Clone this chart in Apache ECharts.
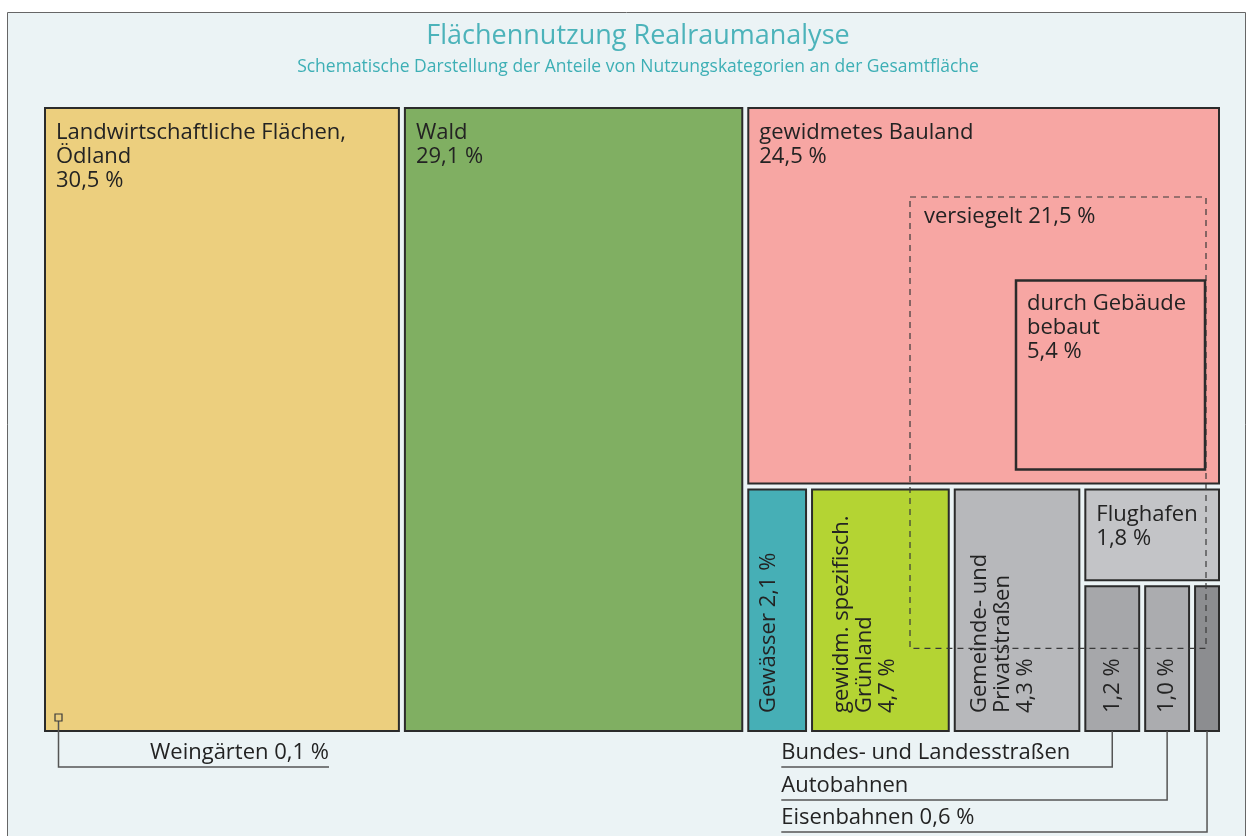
<!DOCTYPE html>
<html>
<head>
<meta charset="utf-8">
<title>Flächennutzung Realraumanalyse</title>
<script src="https://cdn.jsdelivr.net/npm/echarts@6/dist/echarts.min.js"></script>
<style>
  html, body { margin: 0; padding: 0; background: #fff; }
  #chart { width: 1247px; height: 836px; }
</style>
</head>
<body>
<div id="chart"></div>
<script>
  // Anteile an der Gesamtfläche (%)
  const categories = ['Landwirtschaftliche Flächen,\nÖdland', 'Wald', 'gewidmetes Bauland', 'Gewässer',
    'gewidm. spezifisch.\nGrünland', 'Gemeinde- und\nPrivatstraßen', 'Flughafen',
    'Bundes- und Landesstraßen', 'Autobahnen', 'Eisenbahnen'];
  const shares = [30.5, 29.1, 24.5, 2.1, 4.7, 4.3, 1.8, 1.2, 1.0, 0.6];
  const colors = ['#ECCF7E', '#80AF62', '#F7A6A3', '#46AFB6', '#B4D433', '#B7B8BB', '#C3C4C7',
    '#A6A7AA', '#ABACAF', '#8C8D90'];
  // Teilflächen innerhalb des Baulands / Sonderfälle
  const versiegelt = 21.5;
  const gebaeude = 5.4;
  const weingaerten = 0.1;

  const FONT = 'Open Sans';
  const TXT = '#232323';
  const GAP = 3;

  function pct(v) {
    return v.toFixed(1).replace('.', ',') + ' %';
  }

  // einfache slice-and-dice Aufteilung: Spalten nach Anteil, rechte Spalte unterteilt
  const rx0 = shares[0] + shares[1];
  function layout() {
    const b = [];
    b[0] = [0, 0, shares[0], 100];
    b[1] = [shares[0], 0, rx0, 100];
    const rw = 100 - rx0;
    const yb = shares[2] / rw * 100;
    b[2] = [rx0, 0, 100, yb];
    const group = shares[6] + shares[7] + shares[8] + shares[9];
    const row = [shares[3], shares[4], shares[5], group];
    const rowSum = row.reduce((a, c) => a + c, 0);
    let cx = rx0;
    const rowX = row.map(v => { const a = cx; cx += v / rowSum * rw; return [a, cx]; });
    for (let k = 0; k < 3; k++) b[3 + k] = [rowX[k][0], yb, rowX[k][1], 100];
    const gx0 = rowX[3][0], gx1 = rowX[3][1];
    const yf = yb + shares[6] / group * (100 - yb);
    b[6] = [gx0, yb, gx1, yf];
    const small = shares[7] + shares[8] + shares[9];
    let sx = gx0;
    for (let i = 7; i <= 9; i++) {
      const w = shares[i] / small * (gx1 - gx0);
      b[i] = [sx, yf, sx + w, 100];
      sx += w;
    }
    return b.map((r, i) => r.concat(i));
  }
  const boxes = layout();

  // wie wird beschriftet
  const labelMode = ['top', 'top', 'top', 'rot', 'rot', 'rot', 'top', 'rotc', 'rotc', 'none'];
  const rotPad = { 3: 9, 4: 18, 5: 13 };
  const leaderRows = [36, 69, 101];

  function txt(x, y, text, extra) {
    return Object.assign({
      type: 'text', x: x, y: y,
      style: Object.assign({ text: text, fill: TXT, fontSize: 22, fontFamily: FONT,
        lineHeight: 24, align: 'left', verticalAlign: 'top' }, extra && extra.style)
    }, extra && extra.el);
  }

  function renderCell(params, api) {
    const i = api.value(4);
    const p0 = api.coord([api.value(0), api.value(1)]);
    const p1 = api.coord([api.value(2), api.value(3)]);
    const x = p0[0] + GAP, y = p0[1] + GAP;
    const w = p1[0] - p0[0] - 2 * GAP, h = p1[1] - p0[1] - 2 * GAP;
    const children = [{
      type: 'rect', shape: { x: x, y: y, width: w, height: h },
      style: { fill: colors[i], stroke: '#2b2b2b', lineWidth: 2 }
    }];
    const mode = labelMode[i];
    const name = categories[i];
    if (mode === 'top') {
      children.push(txt(x + 11, y + 13, name + '\n' + pct(shares[i])));
    } else if (mode === 'rot') {
      const t = i === 3 ? name + ' ' + pct(shares[i]) : name + '\n' + pct(shares[i]);
      children.push(txt(x + rotPad[i], y + h - 18, t,
        { el: { rotation: Math.PI / 2 }, style: { lineHeight: 23 } }));
    } else if (mode === 'rotc') {
      children.push(txt(x + w / 2, y + h - 18, pct(shares[i]),
        { el: { rotation: Math.PI / 2 }, style: { verticalAlign: 'middle' } }));
    }
    // Zuordnungslinien für die schmalen Verkehrsflächen
    if (i >= 7) {
      const k = i - 7;
      const cx = x + w / 2, by = y + h;
      const ly = by + leaderRows[k];
      const lx = api.coord([rx0, 0])[0] + GAP + 33;
      children.push({
        type: 'polyline', shape: { points: [[cx, by], [cx, ly], [lx, ly]] },
        style: { stroke: '#555', lineWidth: 1.5, fill: null }
      });
      const t = i === 9 ? name + ' ' + pct(shares[i]) : name;
      children.push(txt(lx, ly - 2, t, { style: { verticalAlign: 'bottom' } }));
    }
    // Weingärten: winziges Kästchen unten links
    if (i === 0) {
      const bx = x + 10, bs = 7, byy = y + h - 10 - bs;
      const ly = y + h + 36, lx = x + 284;
      children.push({
        type: 'polyline', shape: { points: [[bx + bs / 2, byy + bs], [bx + bs / 2, ly], [lx, ly]] },
        style: { stroke: '#555', lineWidth: 1.5, fill: null }
      });
      children.push({
        type: 'rect', shape: { x: bx, y: byy, width: bs, height: bs },
        style: { fill: 'none', stroke: '#3a3a3a', lineWidth: 1.2 }
      });
      children.push(txt(lx, ly - 2, 'Weingärten ' + pct(weingaerten),
        { style: { align: 'right', verticalAlign: 'bottom' } }));
    }
    return { type: 'group', children: children };
  }

  // versiegelte und bebaute Fläche über dem Bauland
  function renderOverlay(params, api) {
    const p0 = api.coord([api.value(0), api.value(1)]);
    const p1 = api.coord([api.value(2), api.value(3)]);
    const bx1 = p1[0] - GAP, by0 = p0[1] + GAP, by1 = p1[1] - GAP;
    const vR = bx1 - 13, vL = vR - 296, vT = by0 + 89, vB = by1 + 165;
    const gs = 189, gR = bx1 - 14, gB = by1 - 14;
    return {
      type: 'group', children: [
        { type: 'rect', shape: { x: vL, y: vT, width: vR - vL, height: vB - vT },
          style: { fill: 'none', stroke: '#3a3a3a', lineWidth: 1.2, lineDash: [6, 5] } },
        txt(vL + 14, vT + 8, 'versiegelt ' + pct(versiegelt)),
        { type: 'rect', shape: { x: gR - gs, y: gB - gs, width: gs, height: gs },
          style: { fill: 'none', stroke: '#2b2b2b', lineWidth: 2.5 } },
        txt(gR - gs + 11, gB - gs + 11, 'durch Gebäude\nbebaut\n' + pct(gebaeude))
      ]
    };
  }

  const chart = echarts.init(document.getElementById('chart'));
  chart.setOption({
    animation: false,
    title: {
      text: 'Flächennutzung Realraumanalyse',
      subtext: 'Schematische Darstellung der Anteile von Nutzungskategorien an der Gesamtfläche',
      left: 633, textAlign: 'center', top: 18, itemGap: 8,
      textStyle: { fontSize: 27, fontWeight: 'normal', color: '#4CB3BA', fontFamily: FONT },
      subtextStyle: { fontSize: 17.5, color: '#3DAFB5', fontFamily: FONT }
    },
    graphic: [{
      type: 'rect', z: 0, silent: true,
      shape: { x: 7.5, y: 12.5, width: 1238, height: 840 },
      style: { fill: '#EBF3F5', stroke: '#666', lineWidth: 1 }
    }],
    grid: { left: 42, top: 105, width: 1180, height: 629 },
    xAxis: { type: 'value', min: 0, max: 100, show: false },
    yAxis: { type: 'value', min: 0, max: 100, inverse: true, show: false },
    series: [
      { type: 'custom', renderItem: renderCell, data: boxes, z: 2 },
      { type: 'custom', renderItem: renderOverlay, data: [boxes[2]], z: 3 }
    ]
  });
</script>
</body>
</html>
